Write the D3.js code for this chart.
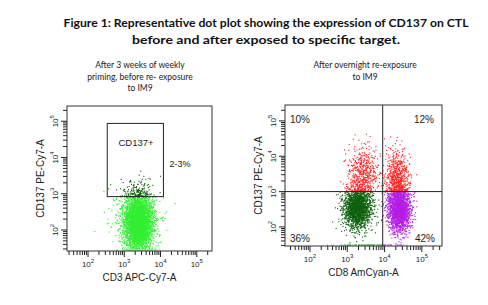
<!DOCTYPE html>
<html lang="en">
<head>
  <meta charset="UTF-8">
  <title>CD137 dot plots</title>
  <script src="https://d3js.org/d3.v7.min.js"></script>
  <style>
    body { margin: 0; padding: 0; background: #fff; }
    svg { display: block; }
    .title { font-family: Lato, sans-serif; font-weight: bold; font-size: 12px; fill: #111; }
    .sub { font-family: Lato, sans-serif; font-size: 8.5px; fill: #222; }
    .ax { font-family: "Liberation Sans", Arial, sans-serif; fill: #222; }
  </style>
</head>
<body>
<div id="chart"></div>
<script>
// ---- data (log10 units) ----
const titleLines = ["Figure 1: Representative dot plot showing the expression of CD137 on CTL",
                    "before and after exposed to specific target."];
const leftSubtitle = ["After 3 weeks of weekly", "priming, before re- exposure", "to IM9"];
const rightSubtitle = ["After overnight re-exposure", "to IM9"];
const decades = [2, 3, 4, 5];

// populations: [name, centre x, centre y, sd x, sd y, events]
const leftPops = [
  ["CD3 T cells", 3.38, 2.22, 0.2, 0.4, 3600],
  ["CD3 scatter", 3.3, 2.4, 0.35, 0.45, 350],
  ["bottom pile", 3.45, 1.00, 0.17, 0.05, 150]
];
const leftGate = { name: "CD137+", x0: 2.53, x1: 4.08, y0: 2.92, y1: 4.94, pct: "2-3%" };

const rightPops = [
  ["CD8- neg", 3.26, 2.55, 0.19, 0.3, 1700],
  ["CD8- pos", 3.42, 3.50, 0.21, 0.4, 520],
  ["CD8+ pos", 4.32, 3.35, 0.16, 0.42, 640],
  ["CD8+ neg", 4.38, 2.5, 0.15, 0.32, 1900],
  ["bottom pile", 3.6, 1.00, 0.45, 0.05, 120]
];
const quadX = 3.95, quadY = 3.0;
const quadLabels = [["10%", "UL"], ["12%", "UR"], ["36%", "LL"], ["42%", "LR"]];
const quadColors = { UL: "#ff2020", UR: "#ff2020", LL: "#0d600d", LR: "#b41ee6" };

const W = 488, H = 305;
const svg = d3.select("#chart").append("svg").attr("width", W).attr("height", H);

// titles
svg.selectAll("text.title").data(titleLines).join("text")
  .attr("class", "title").attr("text-anchor", "middle")
  .attr("x", 266).attr("y", (d, i) => 27 + i * 17)
  .attr("textLength", (d, i) => i === 0 ? 405 : 268).attr("lengthAdjust", "spacingAndGlyphs")
  .text(d => d);

function subtitle(lines, cx) {
  svg.append("g").selectAll("text").data(lines).join("text")
    .attr("class", "sub").attr("text-anchor", "middle")
    .attr("x", cx).attr("y", (d, i) => 68 + i * 11.5).text(d => d);
}
subtitle(leftSubtitle, 140);
subtitle(rightSubtitle, 365);

// quasi-random event layout (Halton) for each population
function halton(i, b) {
  let f = 1, r = 0;
  while (i > 0) { f /= b; r += f * (i % b); i = Math.floor(i / b); }
  return r;
}
function events(pops) {
  const out = [];
  let off = 1;
  pops.forEach(p => {
    for (let i = 0; i < p[5]; i++) {
      const k = off + i;
      const u1 = Math.max(1e-6, halton(k, 2)), u2 = halton(k, 3);
      const u3 = Math.max(1e-6, halton(k, 5)), u4 = halton(k, 7);
      const gx = Math.sqrt(-2 * Math.log(u1)) * Math.cos(2 * Math.PI * u2);
      const gy = Math.sqrt(-2 * Math.log(u3)) * Math.cos(2 * Math.PI * u4);
      out.push([p[1] + gx * p[3], p[2] + gy * p[4]]);
    }
    off += p[5] + 37;
  });
  return out;
}

function panel(o) {
  const x = d3.scaleLog().domain(o.xd.map(v => Math.pow(10, v))).range([o.x0, o.x1]);
  const y = d3.scaleLog().domain(o.yd.map(v => Math.pow(10, v))).range([o.y1, o.y0]);
  const g = svg.append("g");
  const cx = v => Math.min(o.x1 - 1, Math.max(o.x0 + 0.5, x(Math.pow(10, v))));
  const cy = v => Math.min(o.y1 - 1.5, Math.max(o.y0 + 0.5, y(Math.pow(10, v))));

  g.append("g").selectAll("rect").data(o.events).join("rect")
    .attr("x", d => cx(d[0])).attr("y", d => cy(d[1]))
    .attr("width", 1.1).attr("height", 1.1)
    .attr("fill", o.color);

  // ticks
  const tv = [];
  for (let k = 1; k <= 5; k++) for (let m = 1; m <= 9; m++) {
    const v = m * Math.pow(10, k);
    tv.push([v, m === 1]);
  }
  const tx = tv.filter(t => x(t[0]) >= o.x0 - 0.5 && x(t[0]) <= o.x1 + 0.5);
  const ty = tv.filter(t => y(t[0]) <= o.y1 + 0.5 && y(t[0]) >= o.y0 - 0.5);
  g.append("g").selectAll("line").data(tx).join("line")
    .attr("x1", d => x(d[0])).attr("x2", d => x(d[0]))
    .attr("y1", o.y1).attr("y2", d => o.y1 + (d[1] ? 6 : 4))
    .attr("stroke", "#222").attr("stroke-width", 1);
  g.append("g").selectAll("line").data(ty).join("line")
    .attr("y1", d => y(d[0])).attr("y2", d => y(d[0]))
    .attr("x1", o.x0).attr("x2", d => o.x0 - (d[1] ? 6 : 4))
    .attr("stroke", "#222").attr("stroke-width", 1);

  // decade labels
  decades.forEach(e => {
    const t = g.append("text").attr("class", "ax").attr("font-size", 8)
      .attr("text-anchor", "middle")
      .attr("x", x(Math.pow(10, e))).attr("y", o.y1 + 16);
    t.append("tspan").text("10");
    t.append("tspan").attr("dy", -4).attr("font-size", 6).text(e);
    const s = g.append("text").attr("class", "ax").attr("font-size", 8)
      .attr("text-anchor", "middle")
      .attr("transform", `translate(${o.x0 - 9},${y(Math.pow(10, e))}) rotate(-90)`);
    s.append("tspan").text("10");
    s.append("tspan").attr("dy", -4).attr("font-size", 6).text(e);
  });

  g.append("text").attr("class", "ax").attr("font-size", 10).attr("text-anchor", "middle")
    .attr("x", (o.x0 + o.x1) / 2).attr("y", o.y1 + 30).text(o.xlab);
  g.append("text").attr("class", "ax").attr("font-size", 10).attr("text-anchor", "middle")
    .attr("transform", `translate(${o.x0 - 23},${(o.y0 + o.y1) / 2}) rotate(-90)`).text(o.ylab);

  g.append("rect").attr("x", o.x0).attr("y", o.y0)
    .attr("width", o.x1 - o.x0).attr("height", o.y1 - o.y0)
    .attr("fill", "none").attr("stroke", "#333").attr("stroke-width", 1);
  return { x, y, g };
}

// left panel
const leftEvents = events(leftPops);
const inGate = d => d[0] >= leftGate.x0 && d[0] <= leftGate.x1 && d[1] >= leftGate.y0 && d[1] <= leftGate.y1;
const L = panel({
  x0: 67, x1: 212, y0: 106, y1: 251, xd: [1.42, 5.42], yd: [1.42, 5.42],
  events: leftEvents, color: d => inGate(d) ? "#0d5a0d" : (d[1] < 1.42 ? "#88f088" : "#33ee33"),
  xlab: "CD3 APC-Cy7-A", ylab: "CD137 PE-Cy7-A"
});
const p10 = v => Math.pow(10, v);
L.g.append("rect")
  .attr("x", L.x(p10(leftGate.x0))).attr("y", L.y(p10(leftGate.y1)))
  .attr("width", L.x(p10(leftGate.x1)) - L.x(p10(leftGate.x0)))
  .attr("height", L.y(p10(leftGate.y0)) - L.y(p10(leftGate.y1)))
  .attr("fill", "none").attr("stroke", "#222").attr("stroke-width", 1);
L.g.append("text").attr("class", "ax").attr("font-size", 9.5).attr("text-anchor", "middle")
  .attr("x", 136).attr("y", 146).text(leftGate.name);
L.g.append("text").attr("class", "ax").attr("font-size", 9).attr("text-anchor", "middle")
  .attr("x", 180).attr("y", 167).text(leftGate.pct);

// right panel
const rightEvents = events(rightPops);
const quad = d => (d[1] >= quadY ? "U" : "L") + (d[0] >= quadX ? "R" : "L");
const R = panel({
  x0: 285, x1: 442, y0: 105, y1: 246, xd: [1.33, 5.54], yd: [1.46, 5.45],
  events: rightEvents,
  color: d => d[1] < 1.46 ? (d[0] >= quadX ? "#c070e8" : "#6fbf6f") : quadColors[quad(d)],
  xlab: "CD8 AmCyan-A", ylab: "CD137 PE-Cy7-A"
});
R.g.append("line").attr("x1", R.x(p10(quadX))).attr("x2", R.x(p10(quadX)))
  .attr("y1", 105).attr("y2", 246).attr("stroke", "#222");
R.g.append("line").attr("y1", R.y(p10(quadY))).attr("y2", R.y(p10(quadY)))
  .attr("x1", 285).attr("x2", 442).attr("stroke", "#222");
const qpos = { UL: [300, 123], UR: [424, 123], LL: [300, 242], LR: [425, 242] };
R.g.selectAll("text.q").data(quadLabels).join("text")
  .attr("class", "ax q").attr("font-size", 10).attr("text-anchor", "middle")
  .attr("x", d => qpos[d[1]][0]).attr("y", d => qpos[d[1]][1]).text(d => d[0]);
</script>
</body>
</html>
